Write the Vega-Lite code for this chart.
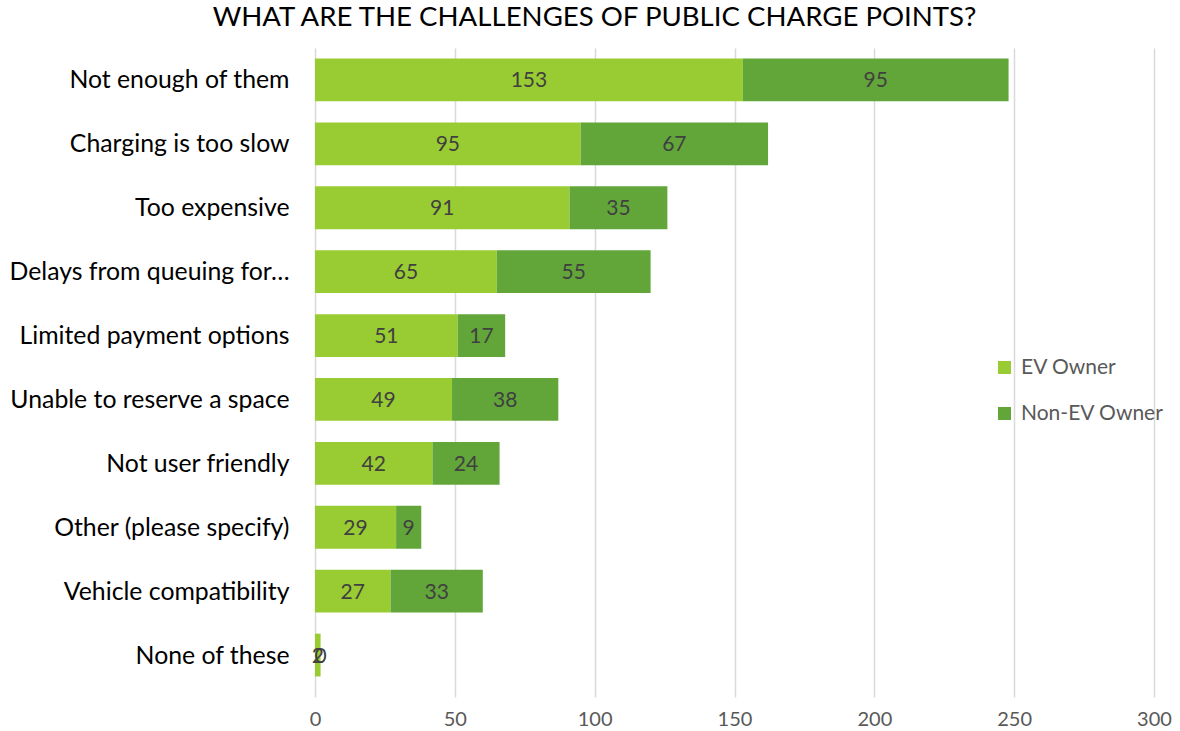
{
  "$schema": "https://vega.github.io/schema/vega-lite/v6.json",
  "width": 839,
  "height": 639,
  "autosize": {"type": "none"},
  "padding": {"left": 315, "top": 48, "right": 26, "bottom": 44},
  "background": "white",
  "config": {
    "font": "Lato",
    "view": {"stroke": null}
  },
  "title": {
    "text": "WHAT ARE THE CHALLENGES OF PUBLIC CHARGE POINTS?",
    "anchor": "middle",
    "dx": -140,
    "offset": 16,
    "fontSize": 27.6,
    "fontWeight": "normal",
    "color": "#000000",
    "font": "Lato"
  },
  "data": {
    "values": [
      {"challenge": "Not enough of them", "group": "EV Owner", "value": 153, "ord": 1},
      {"challenge": "Not enough of them", "group": "Non-EV Owner", "value": 95, "ord": 2},
      {"challenge": "Charging is too slow", "group": "EV Owner", "value": 95, "ord": 1},
      {"challenge": "Charging is too slow", "group": "Non-EV Owner", "value": 67, "ord": 2},
      {"challenge": "Too expensive", "group": "EV Owner", "value": 91, "ord": 1},
      {"challenge": "Too expensive", "group": "Non-EV Owner", "value": 35, "ord": 2},
      {"challenge": "Delays from queuing for…", "group": "EV Owner", "value": 65, "ord": 1},
      {"challenge": "Delays from queuing for…", "group": "Non-EV Owner", "value": 55, "ord": 2},
      {"challenge": "Limited payment options", "group": "EV Owner", "value": 51, "ord": 1},
      {"challenge": "Limited payment options", "group": "Non-EV Owner", "value": 17, "ord": 2},
      {"challenge": "Unable to reserve a space", "group": "EV Owner", "value": 49, "ord": 1},
      {"challenge": "Unable to reserve a space", "group": "Non-EV Owner", "value": 38, "ord": 2},
      {"challenge": "Not user friendly", "group": "EV Owner", "value": 42, "ord": 1},
      {"challenge": "Not user friendly", "group": "Non-EV Owner", "value": 24, "ord": 2},
      {"challenge": "Other (please specify)", "group": "EV Owner", "value": 29, "ord": 1},
      {"challenge": "Other (please specify)", "group": "Non-EV Owner", "value": 9, "ord": 2},
      {"challenge": "Vehicle compatibility", "group": "EV Owner", "value": 27, "ord": 1},
      {"challenge": "Vehicle compatibility", "group": "Non-EV Owner", "value": 33, "ord": 2},
      {"challenge": "None of these", "group": "EV Owner", "value": 2, "ord": 1},
      {"challenge": "None of these", "group": "Non-EV Owner", "value": 0, "ord": 2}
    ]
  },
  "transform": [
    {"stack": "value", "groupby": ["challenge"], "sort": [{"field": "ord", "order": "ascending"}], "as": ["v0", "v1"]},
    {"calculate": "(datum.v0 + datum.v1) / 2", "as": "vmid"}
  ],
  "encoding": {
    "y": {
      "field": "challenge",
      "type": "nominal",
      "sort": ["Not enough of them", "Charging is too slow", "Too expensive", "Delays from queuing for…", "Limited payment options", "Unable to reserve a space", "Not user friendly", "Other (please specify)", "Vehicle compatibility", "None of these"],
      "scale": {"paddingInner": 0.33, "paddingOuter": 0.165},
      "axis": {
        "title": null,
        "domain": false,
        "ticks": false,
        "labelPadding": 26,
        "labelFontSize": 24.8,
        "labelColor": "#000000",
        "labelLimit": 400,
        "labelFont": "Lato",
        "labelOffset": 1.5
      }
    }
  },
  "layer": [
    {
      "mark": {"type": "bar"},
      "encoding": {
        "x": {
          "field": "v0",
          "type": "quantitative",
          "scale": {"domain": [0, 300], "nice": false},
          "axis": {
            "title": null,
            "values": [0, 50, 100, 150, 200, 250, 300],
            "domain": false,
            "ticks": true,
            "tickSize": 10,
            "tickColor": "#d9d9d9",
            "tickWidth": 1.5,
            "grid": true,
            "gridColor": "#d9d9d9",
            "gridWidth": 1.5,
            "labelFontSize": 20,
            "labelFlush": false,
            "labelColor": "#595959",
            "labelPadding": 12,
            "labelFont": "Lato"
          }
        },
        "x2": {"field": "v1"},
        "color": {
          "field": "group",
          "type": "nominal",
          "scale": {"domain": ["EV Owner", "Non-EV Owner"], "range": ["#99cc33", "#62a63a"]},
          "legend": {
            "title": null,
            "orient": "none",
            "legendX": 679,
            "legendY": 309,
            "symbolType": "square",
            "symbolSize": 169,
            "symbolStrokeWidth": 0,
            "labelFontSize": 21,
            "labelColor": "#595959",
            "labelFont": "Lato",
            "labelOffset": 6,
            "rowPadding": 24
          }
        }
      }
    },
    {
      "mark": {"type": "text", "fontSize": 21, "color": "#404040", "align": "center", "baseline": "middle", "dy": 1.5},
      "encoding": {
        "x": {"field": "vmid", "type": "quantitative"},
        "text": {"field": "value", "type": "quantitative"}
      }
    }
  ]
}
